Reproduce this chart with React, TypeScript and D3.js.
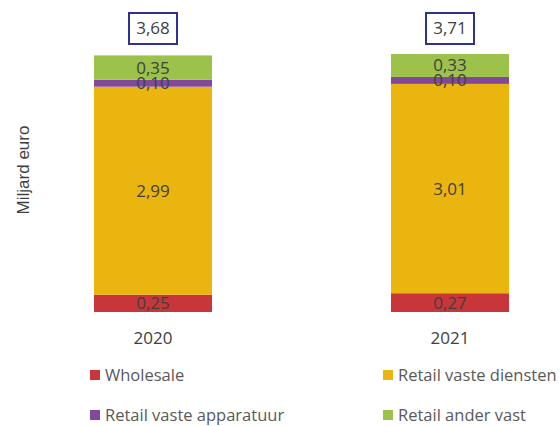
import React from "react";
import * as d3 from "d3";

const years = ["2020", "2021"];
const seriesNames = ["Wholesale", "Retail vaste diensten", "Retail vaste apparatuur", "Retail ander vast"];
const wholesale = [0.25, 0.27];
const retailDiensten = [2.99, 3.01];
const retailApparatuur = [0.10, 0.10];
const retailAnder = [0.35, 0.33];
const totals = [3.68, 3.71];
const colors = ["#C8363A", "#EBB50F", "#82489A", "#9DC24B"];

const W = 559;
const H = 426;
const FONT = "'Open Sans', sans-serif";

const fmt = (v: number) => v.toFixed(2).replace(".", ",");

export default function App() {
  const rows = years.map((y, i) => ({
    year: y,
    s0: wholesale[i],
    s1: retailDiensten[i],
    s2: retailApparatuur[i],
    s3: retailAnder[i],
  }));
  const stack = d3.stack<any>().keys(["s0", "s1", "s2", "s3"]);
  const series = stack(rows);
  const x = d3.scalePoint<string>().domain(years).range([153, 450]);
  const barW = 118;
  const y = d3.scaleLinear().domain([0, 3.71]).range([312, 54]);

  const legendPos = [
    { x: 90, y: 375 },
    { x: 383, y: 375 },
    { x: 90, y: 415 },
    { x: 383, y: 415 },
  ];

  return (
    <svg width={W} height={H} style={{ position: "absolute", left: 0, top: 0, background: "#fff" }} fontFamily={FONT}>
      {series.map((s, si) => (
        <g key={si}>
          {s.map((d, i) => {
            const cx = x(years[i])!;
            const y0 = y(d[0]);
            const y1 = y(d[1]);
            return (
              <g key={i}>
                <rect x={cx - barW / 2} y={y1} width={barW} height={y0 - y1} fill={colors[si]} />
              </g>
            );
          })}
        </g>
      ))}
      {series.map((s, si) => (
        <g key={"l" + si}>
          {s.map((d, i) => {
            const cx = x(years[i])!;
            const ym = (y(d[0]) + y(d[1])) / 2;
            return (
              <text key={i} x={cx} y={ym} dy="0.35em" textAnchor="middle" fontSize={17} fill="#404040">
                {fmt(d[1] - d[0])}
              </text>
            );
          })}
        </g>
      ))}
      {years.map((yr, i) => {
        const cx = x(yr)!;
        return (
          <g key={yr}>
            <rect x={cx - 24} y={13} width={48} height={31} fill="#fff" stroke="#2E3192" strokeWidth={2} />
            <text x={cx} y={28.5} dy="0.35em" textAnchor="middle" fontSize={17} fill="#404040">
              {fmt(totals[i])}
            </text>
            <text x={cx} y={338} dy="0.35em" textAnchor="middle" fontSize={17} fill="#404040">
              {yr}
            </text>
          </g>
        );
      })}
      <text
        transform="translate(23,170) rotate(-90)"
        textAnchor="middle"
        dy="0.35em"
        fontSize={17}
        fontFamily="'Liberation Sans', Arial, sans-serif"
        fill="#404040"
      >
        Miljard euro
      </text>
      {seriesNames.map((n, i) => (
        <g key={n}>
          <rect x={legendPos[i].x} y={legendPos[i].y - 5} width={10} height={10} fill={colors[i]} />
          <text x={legendPos[i].x + 15} y={legendPos[i].y} dy="0.35em" fontSize={16.5} fill="#595959">
            {n}
          </text>
        </g>
      ))}
    </svg>
  );
}
